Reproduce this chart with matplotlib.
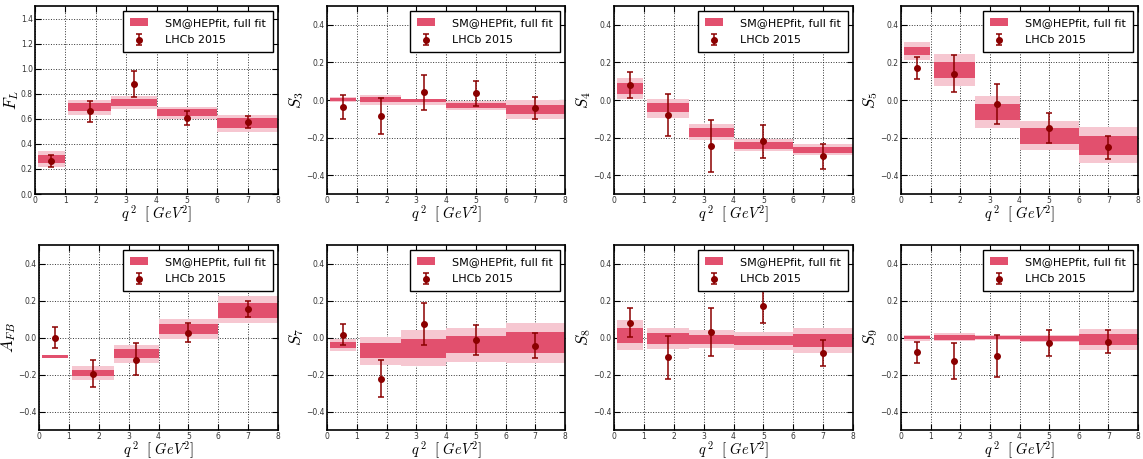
import matplotlib
matplotlib.use("Agg")
import matplotlib.pyplot as plt
import numpy as np

plt.rcParams['mathtext.fontset'] = 'cm'

# q^2 bins
bin_lo = [0.1, 1.1, 2.5, 4.0, 6.0]
bin_hi = [0.98, 2.5, 4.0, 6.0, 8.0]
x_data = [0.54, 1.8, 3.25, 5.0, 7.0]

# SM@HEPfit bands (light = outer, dark = inner), upper / lower edge per bin
FL_light_hi = [0.343, 0.751, 0.783, 0.697, 0.631]
FL_light_lo = [0.218, 0.631, 0.679, 0.596, 0.498]
FL_dark_hi = [0.311, 0.724, 0.759, 0.676, 0.604]
FL_dark_lo = [0.245, 0.663, 0.703, 0.623, 0.530]

S3_light_hi = [0.018, 0.024, 0.007, -0.005, -0.002]
S3_light_lo = [-0.011, -0.024, -0.027, -0.051, -0.100]
S3_dark_hi = [0.011, 0.014, 0.004, -0.014, -0.024]
S3_dark_lo = [-0.005, -0.011, -0.013, -0.042, -0.074]

S4_light_hi = [0.116, 0.005, -0.128, -0.210, -0.233]
S4_light_lo = [0.007, -0.096, -0.214, -0.271, -0.295]
S4_dark_hi = [0.089, -0.016, -0.150, -0.226, -0.248]
S4_dark_lo = [0.033, -0.065, -0.195, -0.259, -0.282]

S5_light_hi = [0.306, 0.246, 0.022, -0.112, -0.145]
S5_light_lo = [0.215, 0.074, -0.148, -0.268, -0.337]
S5_dark_hi = [0.284, 0.203, -0.020, -0.150, -0.194]
S5_dark_lo = [0.237, 0.118, -0.107, -0.232, -0.290]

AFB_light_hi = [-0.094, -0.153, -0.041, 0.099, 0.223]
AFB_light_lo = [-0.112, -0.229, -0.139, -0.009, 0.079]
AFB_dark_hi = [-0.095, -0.175, -0.063, 0.072, 0.187]
AFB_dark_lo = [-0.111, -0.209, -0.112, 0.018, 0.108]

S7_light_hi = [-0.009, 0.005, 0.041, 0.050, 0.081]
S7_light_lo = [-0.072, -0.150, -0.153, -0.132, -0.139]
S7_dark_hi = [-0.025, -0.031, -0.009, 0.007, 0.029]
S7_dark_lo = [-0.056, -0.112, -0.112, -0.086, -0.086]

S8_light_hi = [0.094, 0.054, 0.040, 0.032, 0.054]
S8_light_lo = [-0.067, -0.063, -0.058, -0.067, -0.083]
S8_dark_hi = [0.050, 0.022, 0.013, 0.009, 0.018]
S8_dark_lo = [-0.031, -0.036, -0.036, -0.041, -0.052]

S9_light_hi = [0.011, 0.022, 0.016, 0.014, 0.045]
S9_light_lo = [-0.018, -0.020, -0.016, -0.027, -0.067]
S9_dark_hi = [0.007, 0.013, 0.009, 0.007, 0.018]
S9_dark_lo = [-0.009, -0.011, -0.009, -0.018, -0.041]

# LHCb 2015 measurements: value, upper end, lower end of error bar
FL_val = [0.264, 0.663, 0.881, 0.610, 0.578]
FL_up = [0.311, 0.745, 0.985, 0.665, 0.625]
FL_dn = [0.216, 0.578, 0.772, 0.551, 0.527]

S3_val = [-0.036, -0.087, 0.040, 0.036, -0.043]
S3_up = [0.027, 0.013, 0.134, 0.103, 0.016]
S3_dn = [-0.100, -0.183, -0.054, -0.034, -0.103]

S4_val = [0.081, -0.078, -0.243, -0.219, -0.300]
S4_up = [0.150, 0.033, -0.109, -0.134, -0.235]
S4_dn = [0.013, -0.190, -0.382, -0.306, -0.367]

S5_val = [0.170, 0.139, -0.020, -0.148, -0.252]
S5_up = [0.230, 0.237, 0.087, -0.071, -0.192]
S5_dn = [0.110, 0.042, -0.128, -0.228, -0.315]

AFB_val = [-0.002, -0.195, -0.119, 0.025, 0.153]
AFB_up = [0.056, -0.121, -0.032, 0.077, 0.195]
AFB_dn = [-0.059, -0.270, -0.205, -0.027, 0.112]

S7_val = [0.016, -0.223, 0.074, -0.013, -0.045]
S7_up = [0.074, -0.124, 0.189, 0.065, 0.022]
S7_dn = [-0.041, -0.323, -0.041, -0.095, -0.112]

S8_val = [0.081, -0.104, 0.031, 0.169, -0.083]
S8_up = [0.157, 0.009, 0.160, 0.267, -0.011]
S8_dn = [0.004, -0.222, -0.099, 0.076, -0.153]

S9_val = [-0.081, -0.126, -0.101, -0.032, -0.025]
S9_up = [-0.023, -0.031, 0.014, 0.041, 0.038]
S9_dn = [-0.139, -0.222, -0.215, -0.101, -0.083]

panels = [
    (r'$F_L$', FL_light_hi, FL_light_lo, FL_dark_hi, FL_dark_lo, FL_val, FL_up, FL_dn),
    (r'$S_3$', S3_light_hi, S3_light_lo, S3_dark_hi, S3_dark_lo, S3_val, S3_up, S3_dn),
    (r'$S_4$', S4_light_hi, S4_light_lo, S4_dark_hi, S4_dark_lo, S4_val, S4_up, S4_dn),
    (r'$S_5$', S5_light_hi, S5_light_lo, S5_dark_hi, S5_dark_lo, S5_val, S5_up, S5_dn),
    (r'$A_{FB}$', AFB_light_hi, AFB_light_lo, AFB_dark_hi, AFB_dark_lo, AFB_val, AFB_up, AFB_dn),
    (r'$S_7$', S7_light_hi, S7_light_lo, S7_dark_hi, S7_dark_lo, S7_val, S7_up, S7_dn),
    (r'$S_8$', S8_light_hi, S8_light_lo, S8_dark_hi, S8_dark_lo, S8_val, S8_up, S8_dn),
    (r'$S_9$', S9_light_hi, S9_light_lo, S9_dark_hi, S9_dark_lo, S9_val, S9_up, S9_dn),
]

W, H = 1143, 459
fig = plt.figure(figsize=(W / 100, H / 100), dpi=100)

lefts = [[35, 327, 614, 901], [39, 327, 614, 901]]
rights = [278, 565, 853, 1138]
tops = [6, 245]
bottoms = [194, 430]

dark = '#e2506e'
light = '#f6c7d1'
red = '#8b0000'

bins_lo = np.array(bin_lo)
widths = np.array(bin_hi) - bins_lo

for i, (lab, lh, ll, dh, dl, val, up, dn) in enumerate(panels):
    r, c = divmod(i, 4)
    left = lefts[r][c]
    ax = fig.add_axes([left / W, 1 - bottoms[r] / H,
                       (rights[c] - left) / W, (bottoms[r] - tops[r]) / H])
    lh, ll, dh, dl = map(np.array, (lh, ll, dh, dl))
    ax.bar(bins_lo, lh - ll, bottom=ll, width=widths, align='edge',
           color=light, linewidth=0, zorder=1)
    ax.bar(bins_lo, dh - dl, bottom=dl, width=widths, align='edge',
           color=dark, linewidth=0, zorder=2, label='SM@HEPfit, full fit')
    val, up, dn = map(np.array, (val, up, dn))
    ax.errorbar(x_data, val, yerr=[val - dn, up - val], fmt='o', color=red,
                ms=4, capsize=2.5, elinewidth=1.1, capthick=1.1, zorder=4,
                label='LHCb 2015')
    ax.set_xlim(0, 8)
    ax.set_xticks(range(9))
    if i == 0:
        ax.set_ylim(0, 1.5)
        ax.set_yticks(np.arange(0, 1.41, 0.2))
    else:
        ax.set_ylim(-0.5, 0.5)
        ax.set_yticks([-0.4, -0.2, 0.0, 0.2, 0.4])
    ax.yaxis.set_major_formatter(plt.FuncFormatter(
        lambda v, p: ('%.1f' % v).replace('-', '\u2212')))
    ax.tick_params(direction='in', top=True, right=True, labelsize=5.5,
                   length=4, width=0.8, pad=1.5, labelcolor='#333333')
    ax.grid(True, linestyle=':', color='k', linewidth=0.7, alpha=0.8)
    ax.set_axisbelow(True)
    for s in ax.spines.values():
        s.set_linewidth(1.2)
    ax.set_xlabel(r'$q^{\,2}\ \ [\ GeV^2]$', fontsize=10.5, labelpad=-1)
    ax.set_ylabel(lab, fontsize=12, labelpad=0)
    leg = ax.legend(loc='upper right', fontsize=8, fancybox=False,
                    edgecolor='k', framealpha=1, borderpad=0.6,
                    labelspacing=0.7, handlelength=1.6,
                    handletextpad=1.6, borderaxespad=0.45)
    leg.get_frame().set_linewidth(1.0)

fig.savefig('out.png', dpi=100)
